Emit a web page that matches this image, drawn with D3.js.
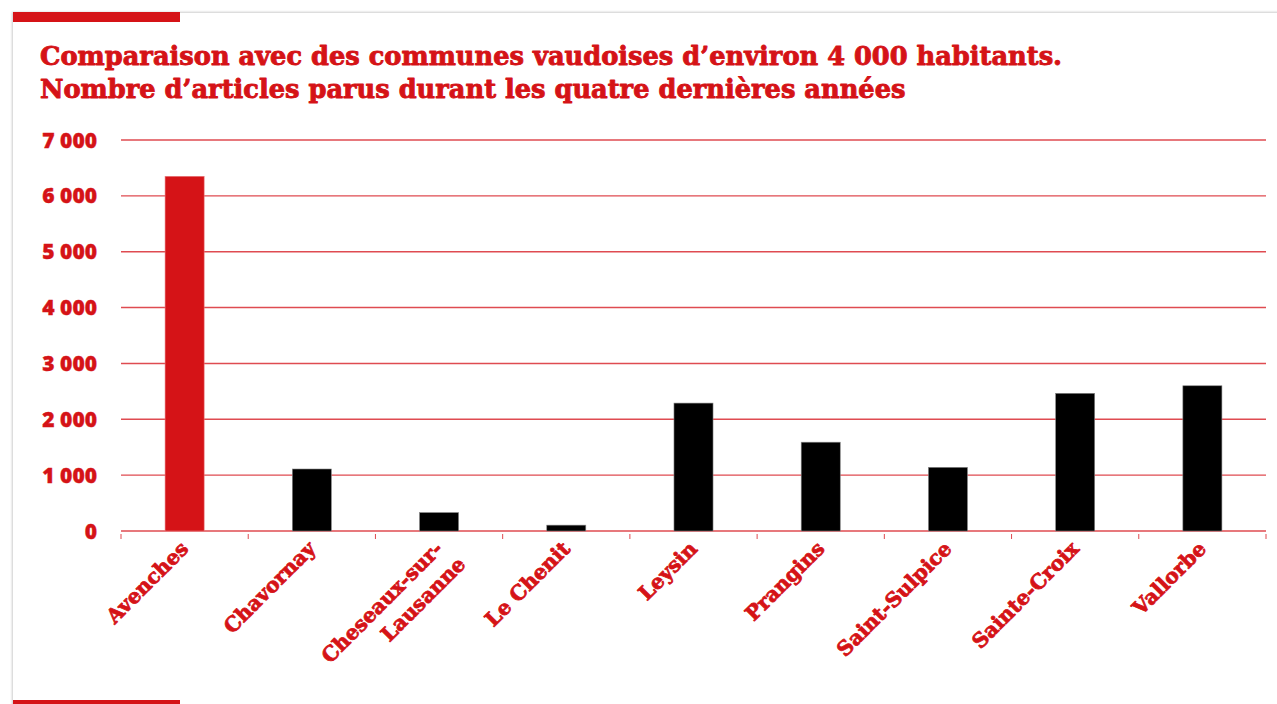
<!DOCTYPE html>
<html><head><meta charset="utf-8">
<script src="https://cdn.jsdelivr.net/npm/d3@7"></script>
<style>html,body{margin:0;padding:0;background:#fff;}svg{display:block;}</style>
</head><body>
<script>
const categories = ["Avenches","Chavornay","Cheseaux-sur-\nLausanne","Le Chenit","Leysin","Prangins","Saint-Sulpice","Sainte-Croix","Vallorbe"];
const values = [6350, 1110, 330, 105, 2290, 1590, 1140, 2465, 2600];
const highlight = ["Avenches"];
const yTicks = [0,1000,2000,3000,4000,5000,6000,7000];
const titleLines = ["Comparaison avec des communes vaudoises d\u2019environ 4\u00a0000 habitants.","Nombre d\u2019articles parus durant les quatre dernières années"];

const W = 1277, H = 704;
const RED = "#d51317";
const svg = d3.select("body").append("svg").attr("width", W).attr("height", H);

// card with shadow
const defs = svg.append("defs");
const f = defs.append("filter").attr("id","sh").attr("x","-5%").attr("y","-5%").attr("width","110%").attr("height","110%");
f.append("feDropShadow").attr("dx",-1).attr("dy",-1).attr("stdDeviation",1.2).attr("flood-color","#000").attr("flood-opacity",0.2);
svg.append("rect").attr("x",13).attr("y",13).attr("width",W+20).attr("height",H+20).attr("fill","#fff").attr("filter","url(#sh)");
svg.append("rect").attr("x",13).attr("y",12).attr("width",167).attr("height",10).attr("fill",RED);
svg.append("rect").attr("x",13).attr("y",700).attr("width",167).attr("height",6).attr("fill",RED);

// title
const title = svg.append("text").attr("x",40).attr("y",65).attr("fill",RED)
  .attr("stroke",RED).attr("stroke-width",0.9).attr("stroke-linejoin","round")
  .style("font-family","'DejaVu Serif', serif").style("font-weight","bold").style("font-size","25.7px");
titleLines.forEach((t,i)=> title.append("tspan").attr("x",40).attr("y",65+i*33).text(t));

const x = d3.scaleBand().domain(categories).range([121,1266]).paddingInner(0.693).paddingOuter(0.3465);
const y = d3.scaleLinear().domain([0,7000]).range([531,140]);

// gridlines
const g = svg.append("g");
g.selectAll("line.grid").data(yTicks).join("line").attr("class","grid")
  .attr("x1",121).attr("x2",1266).attr("y1",d=>y(d)).attr("y2",d=>y(d))
  .attr("stroke","#df4b51").attr("stroke-width",1.4);

// y labels
g.selectAll("text.yl").data(yTicks).join("text").attr("class","yl")
  .attr("x",97).attr("y",d=>y(d)).attr("dy","0.36em").attr("text-anchor","end")
  .attr("fill",RED).attr("stroke",RED).attr("stroke-width",0.4)
  .style("font-family","'Open Sans', sans-serif").style("font-weight","800").style("font-size","21px")
  .text(d=>d3.format(",")(d).replace(/,/g," "));

// bars
g.selectAll("rect.bar").data(categories).join("rect").attr("class","bar")
  .attr("x",d=>x(d)).attr("width",x.bandwidth())
  .attr("y",(d,i)=>y(values[i])).attr("height",(d,i)=>y(0)-y(values[i]))
  .attr("fill",d=>highlight.includes(d)?RED:"#000")
  .attr("stroke",d=>highlight.includes(d)?"#e87a7d":"#888").attr("stroke-width",0.6);

// ticks at band edges
const edges = d3.range(categories.length+1).map(i=>121 + i*(1266-121)/categories.length);
g.selectAll("line.tk").data(edges).join("line").attr("class","tk")
  .attr("x1",d=>d).attr("x2",d=>d).attr("y1",534).attr("y2",539)
  .attr("stroke","#df4b51").attr("stroke-width",1);

// x labels
const xl = g.selectAll("g.xl").data(categories).join("g").attr("class","xl")
  .attr("transform",d=>`translate(${x(d)+x.bandwidth()/2+5},${550}) rotate(-45)`);
xl.each(function(d){
  const t = d3.select(this).append("text").attr("text-anchor","end").attr("fill",RED)
    .attr("stroke",RED).attr("stroke-width",0.8).attr("stroke-linejoin","round")
    .style("font-family","'DejaVu Serif', serif").style("font-weight","bold").style("font-size","20.3px");
  d.split("\n").forEach((line,i)=> t.append("tspan").attr("x",i*5).attr("y",i*27).text(line));
});
</script>
</body></html>
